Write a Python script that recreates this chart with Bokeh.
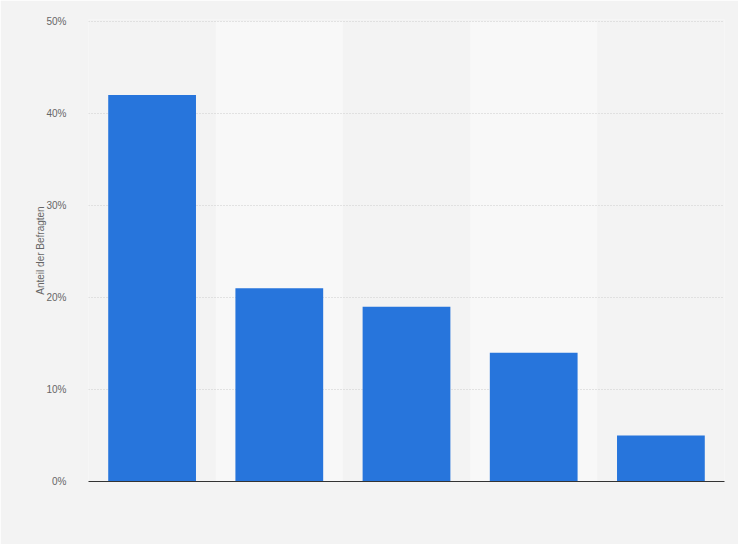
from bokeh.plotting import figure
from bokeh.models import FactorRange, Range1d, PrintfTickFormatter, FixedTicker
from bokeh.embed import file_html
from bokeh.resources import INLINE

categories = ["A", "B", "C", "D", "E"]
values = [42, 21, 19, 14, 5]
band_categories = ["B", "D"]
y_ticks = [0, 10, 20, 30, 40, 50]

p = figure(width=738, height=544, x_range=FactorRange(*categories, range_padding=0),
           y_range=Range1d(0, 50.2), output_backend="svg", toolbar_location=None,
           min_border_left=88, min_border_right=14, min_border_top=19, min_border_bottom=63)
p.background_fill_color = "#f3f3f3"
p.border_fill_color = "#f3f3f3"
p.outline_line_color = None

bands = p.vbar(x=band_categories, top=[50] * len(band_categories), bottom=0, width=1.0,
               fill_color="#f8f8f8", line_color=None)
bands.level = "image"
p.vbar(x=categories, top=values, bottom=0, width=0.69, fill_color="#2775dc", line_color=None)

p.xgrid.grid_line_color = None
p.ygrid.grid_line_color = "#cccccc"
p.ygrid.grid_line_dash = "1 2"
p.ygrid.ticker = FixedTicker(ticks=y_ticks)
p.ygrid.level = "underlay"

p.yaxis.ticker = FixedTicker(ticks=y_ticks)
p.yaxis.formatter = PrintfTickFormatter(format="%d%%")
p.yaxis.axis_line_color = None
p.yaxis.major_tick_line_color = None
p.yaxis.minor_tick_line_color = None
p.yaxis.major_label_text_color = "#666666"
p.yaxis.major_label_text_font = "Liberation Sans"
p.yaxis.major_label_text_font_size = "10px"
p.yaxis.major_label_standoff = 16
p.yaxis.axis_label = "Anteil der Befragten"
p.yaxis.axis_label_text_font = "Liberation Sans"
p.yaxis.axis_label_text_font_style = "normal"
p.yaxis.axis_label_text_font_size = "10px"
p.yaxis.axis_label_text_color = "#666666"
p.yaxis.axis_label_standoff = -3

p.xaxis.axis_line_color = "#333333"
p.xaxis.axis_line_width = 1
p.xaxis.major_tick_line_color = None
p.xaxis.minor_tick_line_color = None
p.xaxis.major_label_text_color = None
p.xaxis.major_label_text_font_size = "0px"

open("out.html", "w").write(file_html(p, INLINE))
